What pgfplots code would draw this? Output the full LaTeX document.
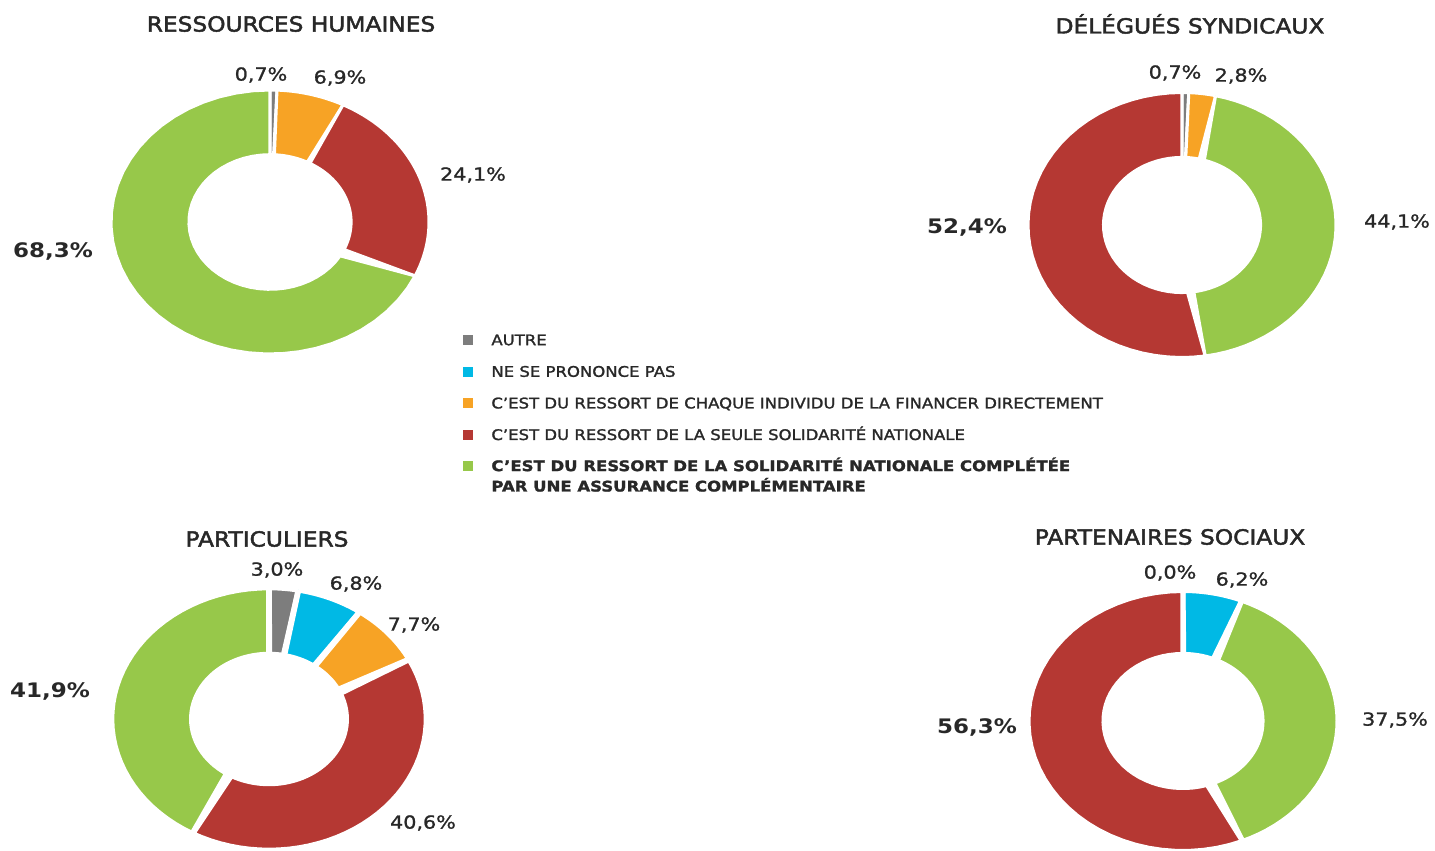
\documentclass[border=0pt]{standalone}
\usepackage{pgfplots}
\pgfplotsset{compat=1.18}
\usepackage{fontspec}
\setmainfont{DejaVu Sans}[FakeStretch=1.15]
\newfontfamily\titlefont{DejaVu Sans}[FakeStretch=1.12,FakeBold=2.2]
\newfontfamily\lblfont{DejaVu Sans}[FakeStretch=1.15,FakeBold=1.2]
\newfontfamily\legfont{DejaVu Sans}[FakeStretch=1.13,FakeBold=1.6]
\definecolor{cgray}{RGB}{125,125,125}
\definecolor{ccyan}{RGB}{0,185,229}
\definecolor{corange}{RGB}{247,163,37}
\definecolor{cred}{RGB}{181,56,51}
\definecolor{cgreen}{RGB}{151,200,74}
\definecolor{ctext}{RGB}{40,40,40}
\newcommand{\rin}{0.51}
% #1 gap width, #2 cumulative start (%), #3 slice value (%), #4 colour
\newcommand{\slice}[4][1.5pt]{%
  \addplot[fill=#4, draw=white, line width=#1, line join=round,
    samples at={0,0.025,...,1,1.0001,1.025,1.05,...,2,3}, variable=\t]
  ({((\t<=1) ? 1 : ((\t<2.5) ? \rin : 1))*sin(3.6*(#2+#3*((\t<=1) ? \t : ((\t<2.5) ? (2-\t) : 0))))},
   {((\t<=1) ? 1 : ((\t<2.5) ? \rin : 1))*cos(3.6*(#2+#3*((\t<=1) ? \t : ((\t<2.5) ? (2-\t) : 0))))});
}
\pgfplotsset{donut/.style={hide axis, scale only axis, anchor=center,
  xmin=-1, xmax=1, ymin=-1, ymax=1, clip=false}}
\begin{document}
\begin{tikzpicture}
\useasboundingbox (0pt,0pt) rectangle (717.5pt,425.5pt);

% RESSOURCES HUMAINES
\begin{axis}[donut, at={(135pt,314.5pt)}, width=159pt, height=132pt]
\slice{0}{0.7}{cgray}
\slice{0.7}{6.9}{corange}
\slice{7.6}{24.1}{cred}
\slice{31.7}{68.3}{cgreen}
\end{axis}

% DELEGUES SYNDICAUX
\begin{axis}[donut, at={(591pt,313pt)}, width=154pt, height=132.5pt]
\slice{0}{0.7}{cgray}
\slice{0.7}{2.8}{corange}
\slice{3.5}{44.1}{cgreen}
\slice{47.6}{52.4}{cred}
\end{axis}

% PARTICULIERS
\renewcommand{\rin}{0.49}
\begin{axis}[donut, at={(134.5pt,66pt)}, width=157.5pt, height=131.5pt]
\slice[2.8pt]{0}{3.0}{cgray}
\slice[2.8pt]{3.0}{6.8}{ccyan}
\slice[2.8pt]{9.8}{7.7}{corange}
\slice[2.8pt]{17.5}{40.6}{cred}
\slice[2.8pt]{58.1}{41.9}{cgreen}
\end{axis}

% PARTENAIRES SOCIAUX
\renewcommand{\rin}{0.51}
\begin{axis}[donut, at={(591.5pt,65pt)}, width=155pt, height=130.5pt]
\slice[2.5pt]{0}{0.0}{corange}
\slice[2.5pt]{0}{6.2}{ccyan}
\slice[2.5pt]{6.2}{37.5}{cgreen}
\slice[2.5pt]{43.7}{56.3}{cred}
\end{axis}

% legend
\begin{axis}[hide axis, scale only axis, width=5pt, height=5pt,
  at={(231.5pt,258.5pt)}, anchor=north west, xmin=0, xmax=1, ymin=0, ymax=1,
  legend cell align=left,
  legend image code/.code={\fill[#1, draw=none] (0pt,-2.5pt) rectangle (5pt,2.5pt); \path[draw=none] (11pt,0pt) circle (0.01pt);},
  legend style={at={(0,1)}, anchor=north west, draw=none, fill=none,
    inner sep=0pt, row sep=10pt,
    nodes={text=ctext, font=\fontsize{7.3}{10.2}\legfont, inner xsep=3pt, inner ysep=0pt,
      text height=5.4pt, text depth=0.4pt, align=left}}]
\addlegendimage{cgray}\addlegendentry{AUTRE}
\addlegendimage{ccyan}\addlegendentry{NE SE PRONONCE PAS}
\addlegendimage{corange}\addlegendentry{C’EST DU RESSORT DE CHAQUE INDIVIDU DE LA FINANCER DIRECTEMENT}
\addlegendimage{cred}\addlegendentry{C’EST DU RESSORT DE LA SEULE SOLIDARITÉ NATIONALE}
\addlegendimage{legend image code/.code={\fill[cgreen, draw=none] (0pt,4.1pt) rectangle (5pt,9.1pt); \path[draw=none] (11pt,0pt) circle (0.01pt);}}
\addlegendentry[text height=12.9pt]{\bfseries C’EST DU RESSORT DE LA SOLIDARITÉ NATIONALE COMPLÉTÉE\\\bfseries PAR UNE ASSURANCE COMPLÉMENTAIRE}
\end{axis}

\begin{scope}[yshift=425.5pt, x=0.5pt, y=-0.5pt,
  lbl/.style={text=ctext, font=\fontsize{9}{10}\lblfont, inner sep=0pt},
  blbl/.style={text=ctext, font=\fontsize{10}{11}\selectfont\bfseries, inner sep=0pt},
  ttl/.style={text=ctext, font=\fontsize{10.4}{12}\titlefont, inner sep=0pt}]
% titles
\node[ttl] at (291,24) {RESSOURCES HUMAINES};
\node[ttl] at (1190,24) {DÉLÉGUÉS SYNDICAUX};
\node[ttl] at (267,539) {PARTICULIERS};
\node[ttl] at (1170,537) {PARTENAIRES SOCIAUX};

% value labels
\node[lbl] at (261,75) {0,7\%};
\node[lbl] at (340,78) {6,9\%};
\node[lbl] at (473,175) {24,1\%};
\node[blbl] at (53,252) {68,3\%};

\node[lbl] at (1175,73) {0,7\%};
\node[lbl] at (1241,76) {2,8\%};
\node[lbl] at (1397,222) {44,1\%};
\node[blbl] at (967,228) {52,4\%};

\node[lbl] at (277,570) {3,0\%};
\node[lbl] at (356,584) {6,8\%};
\node[lbl] at (414,625) {7,7\%};
\node[lbl] at (423,823) {40,6\%};
\node[blbl] at (50,692) {41,9\%};

\node[lbl] at (1170,573) {0,0\%};
\node[lbl] at (1242,580) {6,2\%};
\node[lbl] at (1395,720) {37,5\%};
\node[blbl] at (977,728) {56,3\%};
\end{scope}
\end{tikzpicture}
\end{document}
